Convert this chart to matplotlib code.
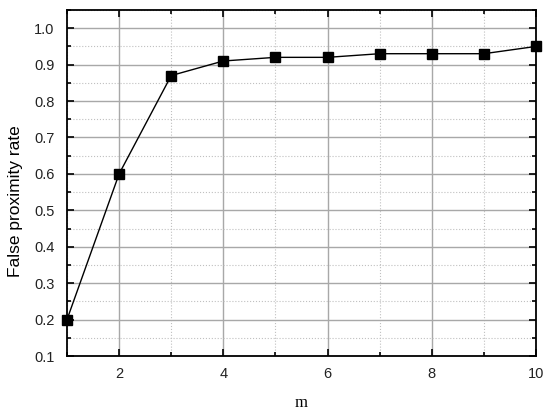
import matplotlib
matplotlib.use("Agg")
import matplotlib.pyplot as plt
from matplotlib.ticker import MultipleLocator, FormatStrFormatter

m = [1, 2, 3, 4, 5, 6, 7, 8, 9, 10]
rate = [0.20, 0.60, 0.87, 0.91, 0.92, 0.92, 0.93, 0.93, 0.93, 0.95]

plt.rcParams["font.family"] = ["Liberation Sans", "DejaVu Sans"]

fig = plt.figure(figsize=(5.5, 4.13), dpi=100)
ax = fig.add_axes([67 / 550, 1 - 356 / 413, (536 - 67) / 550, (356 - 10) / 413])

ax.plot(m, rate, color="black", linewidth=1, marker="s", markersize=6.5,
        clip_on=False, zorder=3)

ax.set_xlim(1, 10)
ax.set_ylim(0.1, 1.05)
ax.xaxis.set_major_locator(MultipleLocator(2))
ax.xaxis.set_minor_locator(MultipleLocator(1))
ax.yaxis.set_major_locator(MultipleLocator(0.1))
ax.yaxis.set_minor_locator(MultipleLocator(0.05))
ax.yaxis.set_major_formatter(FormatStrFormatter("%.1f"))

ax.grid(which="major", color="#a8a8a8", linewidth=1, linestyle="-")
ax.grid(which="minor", color="#c0c0c0", linewidth=0.8, linestyle=":")
ax.set_axisbelow(True)

ax.tick_params(which="both", direction="in", top=True, right=True,
               labelsize=10.5, width=1.2, labelcolor="#222222")
ax.tick_params(which="major", length=5, pad=8)
ax.tick_params(axis="y", which="major", pad=9)
ax.tick_params(which="minor", length=3)
for s in ax.spines.values():
    s.set_linewidth(1.3)

ax.set_xlabel("m", fontsize=12, family="Liberation Serif", labelpad=10)
ax.set_ylabel("False proximity rate", fontsize=12.5)
ax.yaxis.set_label_coords(-0.094, 0.448)

fig.savefig("out.png", dpi=100)
